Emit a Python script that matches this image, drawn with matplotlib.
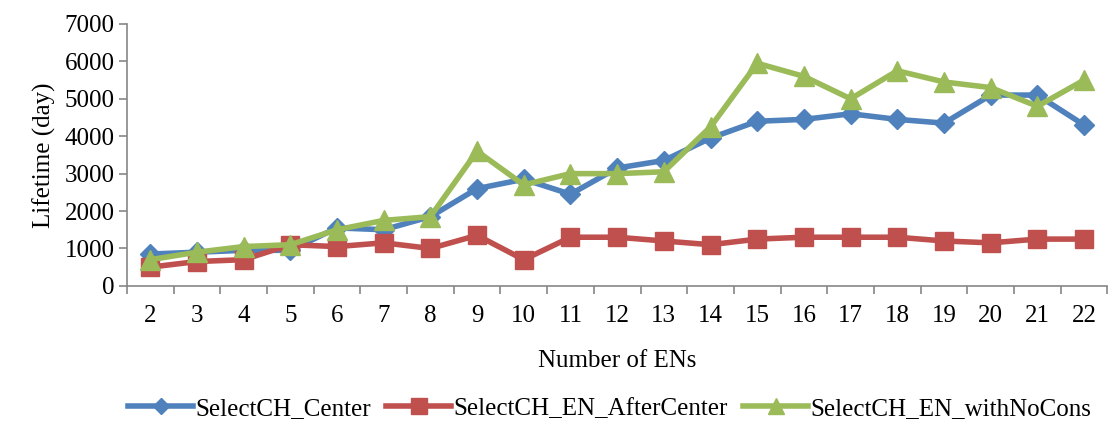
import numpy as np
import matplotlib
matplotlib.use('Agg')
import matplotlib.pyplot as plt
from matplotlib.ticker import FixedLocator

plt.rcParams['font.family'] = ['Liberation Serif', 'DejaVu Serif']

num_ens = list(range(2, 23))
center = [850, 900, 950, 950, 1550, 1500, 1850, 2600, 2850, 2450, 3150,
          3350, 3950, 4400, 4450, 4600, 4450, 4350, 5100, 5100, 4300]
after_center = [500, 650, 700, 1100, 1050, 1150, 1000, 1350, 700, 1300, 1300,
                1200, 1100, 1250, 1300, 1300, 1300, 1200, 1150, 1250, 1250]
no_cons = [700, 900, 1050, 1100, 1500, 1750, 1850, 3600, 2700, 3000, 3000,
           3050, 4250, 5950, 5600, 5000, 5750, 5450, 5300, 4800, 5500]
names = ['SelectCH_Center', 'SelectCH_EN_AfterCenter', 'SelectCH_EN_withNoCons']

fig = plt.figure(figsize=(11.13, 4.21), dpi=100)
ax = fig.add_axes([0.114, 0.321, 0.881, 0.622])

ax.plot(num_ens, center, color='#4F81BD', linewidth=4, marker='D', markersize=10, label=names[0])
ax.plot(num_ens, after_center, color='#C0504D', linewidth=4, marker='s', markersize=13, label=names[1])
ax.plot(num_ens, no_cons, color='#9BBB59', linewidth=4, marker='^', markersize=14, label=names[2])

ax.set_xlim(1.5, 22.5)
ax.set_ylim(0, 7000)
ax.set_yticks(np.arange(0, 7001, 1000))
ax.set_xticks(num_ens)
ax.xaxis.set_minor_locator(FixedLocator(np.arange(1.5, 23, 1)))
ax.tick_params(axis='x', which='major', length=0, pad=14, labelsize=18)
ax.tick_params(axis='x', which='minor', length=6, color='#868686', width=1.2)
ax.tick_params(axis='y', length=6, color='#868686', width=1.2, labelsize=18, pad=3)

for side in ['top', 'right']:
    ax.spines[side].set_visible(False)
for side in ['left', 'bottom']:
    ax.spines[side].set_color('#868686')
    ax.spines[side].set_linewidth(1.2)

ax.set_xlabel('Number of ENs', fontsize=18, labelpad=16)
ax.set_ylabel('Lifetime (day)', fontsize=18, labelpad=6)

fig.legend(loc='lower center', bbox_to_anchor=(0.548, -0.05), ncol=3, frameon=False,
           fontsize=18, handlelength=2.6, handletextpad=0.1, columnspacing=0.6,
           markerscale=0.85)

fig.savefig('out.png', dpi=100)
